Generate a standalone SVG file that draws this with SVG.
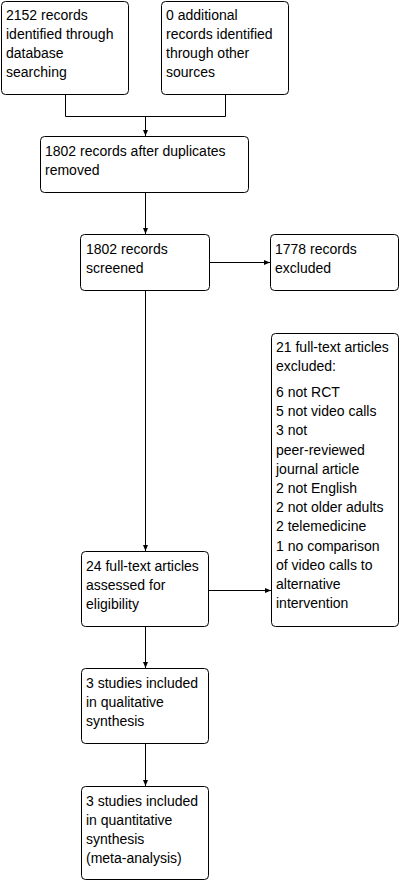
<svg xmlns="http://www.w3.org/2000/svg" width="402" height="881" viewBox="0 0 402 881">
<style>
.box{fill:#fff;stroke:#000;stroke-width:1}
.t{font-family:"Liberation Sans",Arial,sans-serif;font-size:14px;fill:#000}
.c{fill:none;stroke:#000;stroke-width:1}
</style>
<defs>
<marker id="ah" markerUnits="userSpaceOnUse" markerWidth="7" markerHeight="6" refX="6" refY="3" orient="auto">
<path d="M0,0.5 L6,3 L0,5.5 z" fill="#000"/>
</marker>
</defs>
<rect width="402" height="881" fill="#fff"/>
<g id="connectors">
<path class="c" d="M65.5,95 V116.5 H225.5 V95"/>
<path class="c" d="M145.5,116.5 V136" marker-end="url(#ah)"/>
<path class="c" d="M145.5,193 V234" marker-end="url(#ah)"/>
<path class="c" d="M210,262.5 H270" marker-end="url(#ah)"/>
<path class="c" d="M145.5,291 V551" marker-end="url(#ah)"/>
<path class="c" d="M209,590.5 H271" marker-end="url(#ah)"/>
<path class="c" d="M145.5,627 V668" marker-end="url(#ah)"/>
<path class="c" d="M145.5,744 V786" marker-end="url(#ah)"/>
</g>
<g id="n1">
<rect class="box" x="1.5" y="1.5" width="127" height="93" rx="4"/>
<text class="t" x="6" y="20">2152 records</text>
<text class="t" x="6" y="39">identified through</text>
<text class="t" x="6" y="58">database</text>
<text class="t" x="6" y="77">searching</text>
</g>
<g id="n2">
<rect class="box" x="161.5" y="1.5" width="127" height="93" rx="4"/>
<text class="t" x="166" y="20">0 additional</text>
<text class="t" x="166" y="39">records identified</text>
<text class="t" x="166" y="58">through other</text>
<text class="t" x="166" y="77">sources</text>
</g>
<g id="n3">
<rect class="box" x="40.5" y="136.5" width="208" height="56" rx="4"/>
<text class="t" x="45" y="156">1802 records after duplicates</text>
<text class="t" x="45" y="175">removed</text>
</g>
<g id="n4">
<rect class="box" x="80.5" y="234.5" width="129" height="56" rx="4"/>
<text class="t" x="86" y="254">1802 records</text>
<text class="t" x="86" y="273">screened</text>
</g>
<g id="n5">
<rect class="box" x="270.5" y="234.5" width="128" height="56" rx="4"/>
<text class="t" x="275" y="254">1778 records</text>
<text class="t" x="275" y="273">excluded</text>
</g>
<g id="n6">
<rect class="box" x="271.5" y="333.5" width="127" height="293" rx="4"/>
<text class="t" x="276" y="352">21 full-text articles</text>
<text class="t" x="276" y="371">excluded:</text>
<text class="t" x="276" y="397">6 not RCT</text>
<text class="t" x="276" y="416">5 not video calls</text>
<text class="t" x="276" y="435">3 not</text>
<text class="t" x="276" y="455">peer-reviewed</text>
<text class="t" x="276" y="474">journal article</text>
<text class="t" x="276" y="493">2 not English</text>
<text class="t" x="276" y="512">2 not older adults</text>
<text class="t" x="276" y="531">2 telemedicine</text>
<text class="t" x="276" y="551">1 no comparison</text>
<text class="t" x="276" y="570">of video calls to</text>
<text class="t" x="276" y="589">alternative</text>
<text class="t" x="276" y="608">intervention</text>
</g>
<g id="n7">
<rect class="box" x="81.5" y="551.5" width="127" height="75" rx="4"/>
<text class="t" x="86" y="571">24 full-text articles</text>
<text class="t" x="86" y="590">assessed for</text>
<text class="t" x="86" y="609">eligibility</text>
</g>
<g id="n8">
<rect class="box" x="81.5" y="668.5" width="127" height="75" rx="4"/>
<text class="t" x="86" y="688">3 studies included</text>
<text class="t" x="86" y="707">in qualitative</text>
<text class="t" x="86" y="726">synthesis</text>
</g>
<g id="n9">
<rect class="box" x="81.5" y="786.5" width="127" height="93" rx="4"/>
<text class="t" x="86" y="806">3 studies included</text>
<text class="t" x="86" y="825">in quantitative</text>
<text class="t" x="86" y="844">synthesis</text>
<text class="t" x="86" y="863">(meta-analysis)</text>
</g>
</svg>
